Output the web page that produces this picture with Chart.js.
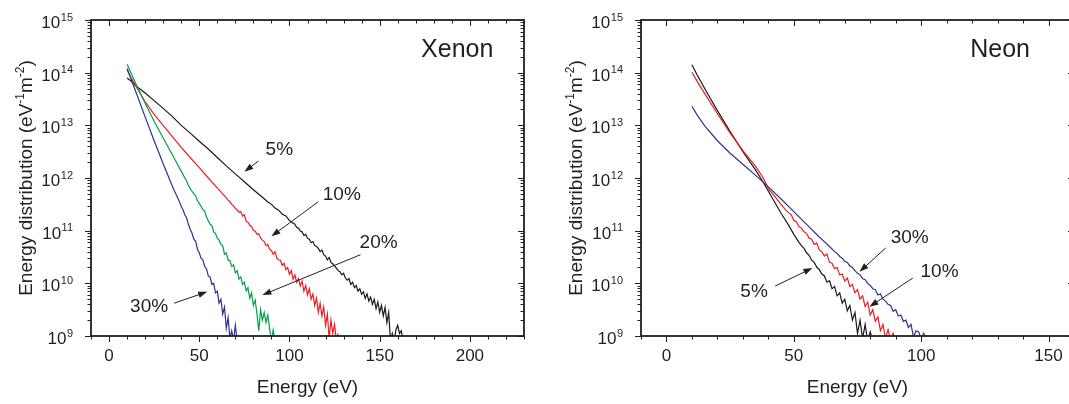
<!DOCTYPE html>
<html>
<head>
<meta charset="utf-8">
<script src="https://cdn.jsdelivr.net/npm/chart.js@4.4.1/dist/chart.umd.min.js"></script>
<style>
  html, body { margin: 0; padding: 0; background: #fff; width: 1069px; height: 404px; overflow: hidden; }
  .panel { position: absolute; top: 0; width: 540px; height: 404px; }
  #xePanel { left: 0; }
  #nePanel { left: 550px; }
</style>
</head>
<body>
<div class="panel" id="xePanel"><canvas id="xenon" width="540" height="404"></canvas></div>
<div class="panel" id="nePanel"><canvas id="neon" width="540" height="404"></canvas></div>
<script>
// ---- Xenon, energy (eV) and distribution (eV^-1 m^-2) ----
const xeEnergy5 = [10, 12, 15, 20, 25, 30, 35, 40, 45, 50, 55, 60, 65, 70, 75, 80, 85, 88, 90, 92, 94, 96, 98,
  100, 101, 102, 103, 104, 105, 106, 107, 108, 109,
  110, 111, 112, 113, 114, 115, 116, 117, 118, 119,
  120, 121, 122, 123, 124, 125, 126, 127, 128, 129,
  130, 131, 132, 133, 134, 135, 136, 137, 138, 139,
  140, 141, 142, 143, 144, 145, 146, 147, 148, 149,
  150, 151, 152, 153, 154, 155, 156, 157, 158, 159,
  160, 161, 162, 163];
const xeFlux5 = [7.9e13, 7.0e13, 5.6e13, 4.1e13, 2.95e13, 2.1e13, 1.48e13, 1.0e13, 7.1e12, 5.0e12, 3.55e12, 2.45e12,
  1.7e12, 1.2e12, 8.5e11, 6.0e11, 4.3e11, 3.5e11, 3.16e11, 2.7e11, 2.45e11, 2.05e11, 1.9e11,
  1.55e11, 1.48e11, 1.38e11, 1.32e11, 1.15e11, 1.12e11, 9.8e10, 9.5e10, 8.1e10, 8.5e10,
  7.2e10, 6.9e10, 5.9e10, 6.2e10, 5.2e10, 5.0e10, 4.6e10, 4.0e10, 4.3e10, 3.5e10,
  3.3e10, 2.8e10, 3.1e10, 2.5e10, 2.35e10, 2.15e10, 1.95e10, 1.74e10, 1.66e10, 1.45e10,
  1.55e10, 1.26e10, 1.15e10, 1.23e10, 9.5e9, 1.05e10, 8.3e9, 9.1e9, 7.1e9, 7.9e9,
  6.2e9, 6.9e9, 5.2e9, 6.3e9, 4.6e9, 5.5e9, 4.0e9, 5.0e9, 3.3e9, 4.4e9,
  2.8e9, 3.8e9, 2.4e9, 3.5e9, 1.8e9, 2.8e9, 8e8, 1.12e9, 8e8, 1.3e9,
  1.6e9, 1.12e9, 1.26e9, 8e8];

const xeEnergy10 = [10, 12, 15, 20, 25, 30, 35, 40, 45, 50, 55, 60, 65,
  66, 67, 68, 69, 70, 71, 72, 73, 74, 75,
  76, 77, 78, 79, 80, 81, 82, 83, 84, 85,
  86, 87, 88, 89, 90, 91, 92, 93, 94, 95,
  96, 97, 98, 99, 100, 101, 102, 103, 104, 105,
  106, 107, 108, 109, 110, 111, 112, 113, 114, 115,
  116, 117, 118, 119, 120, 121, 122, 123, 124, 125,
  126, 127];
const xeFlux10 = [1.12e14, 8.3e13, 5.5e13, 2.8e13, 1.62e13, 1.0e13, 6.2e12, 3.8e12, 2.45e12, 1.58e12, 1.0e12, 6.5e11, 4.2e11,
  3.8e11, 3.55e11, 3.16e11, 2.95e11, 2.63e11, 2.5e11, 2.24e11, 2.3e11, 1.9e11, 2.0e11,
  1.5e11, 1.45e11, 1.26e11, 1.2e11, 1.02e11, 9.8e10, 8.5e10, 8.7e10, 7.2e10, 6.6e10,
  6.2e10, 5.2e10, 5.5e10, 4.4e10, 4.2e10, 3.55e10, 4.0e10, 3.0e10, 2.8e10, 2.75e10,
  2.2e10, 2.4e10, 1.82e10, 2.0e10, 1.48e10, 1.74e10, 1.2e10, 1.45e10, 1.05e10, 1.23e10,
  8.9e9, 1.1e10, 7.1e9, 9.1e9, 6.0e9, 7.9e9, 5.0e9, 6.3e9, 3.8e9, 5.2e9,
  2.8e9, 4.2e9, 2.4e9, 3.55e9, 1.6e9, 2.6e9, 8.9e8, 2.0e9, 1.12e9, 1.66e9,
  8e8, 1.12e9];

const xeEnergy20 = [10, 12, 15, 20, 25, 30, 35, 40, 43,
  44, 45, 46, 47, 48, 49, 50, 51, 52, 53,
  54, 55, 56, 57, 58, 59, 60, 61, 62, 63,
  64, 65, 66, 67, 68, 69, 70, 71, 72, 73,
  74, 75, 76, 77, 78, 79, 80, 81, 82, 83,
  84, 85, 86, 87, 88, 89, 90, 91, 92];
const xeFlux20 = [1.45e14, 1.02e14, 6.0e13, 2.63e13, 1.2e13, 5.75e12, 2.8e12, 1.35e12, 8.7e11,
  7.2e11, 6.3e11, 5.6e11, 5.0e11, 4.6e11, 3.7e11, 3.3e11, 2.9e11, 2.5e11, 2.35e11,
  1.82e11, 1.55e11, 1.32e11, 1.26e11, 9.5e10, 8.9e10, 7.1e10, 6.6e10, 5.5e10, 5.2e10,
  3.55e10, 3.8e10, 2.75e10, 2.7e10, 2.1e10, 2.24e10, 1.58e10, 1.74e10, 1.2e10, 1.32e10,
  9.5e9, 1.05e10, 7.2e9, 8.3e9, 5.2e9, 6.6e9, 3.8e9, 4.8e9, 2.6e9, 1.26e9,
  3.16e9, 2.0e9, 2.8e9, 1.8e9, 2.5e9, 1.4e9, 8e8, 1.3e9, 8e8];

const xeEnergy30 = [10, 12, 15, 20, 25, 30, 35,
  36, 37, 38, 39, 40, 41, 42, 43, 44, 45,
  46, 47, 48, 49, 50, 51, 52, 53, 54, 55,
  56, 57, 58, 59, 60, 61, 62, 63, 64, 65,
  66, 67, 68, 69, 70, 71];
const xeFlux30 = [1.2e14, 7.9e13, 4.2e13, 1.45e13, 5.1e12, 1.86e12, 7.1e11,
  5.9e11, 5.0e11, 4.2e11, 3.55e11, 2.9e11, 2.5e11, 2.0e11, 1.74e11, 1.32e11, 1.05e11,
  8.9e10, 6.9e10, 6.3e10, 4.4e10, 3.8e10, 3.0e10, 2.8e10, 2.1e10, 1.9e10, 1.38e10,
  1.32e10, 9.5e9, 1.0e10, 6.6e9, 7.1e9, 4.2e9, 5.0e9, 2.6e9, 3.55e9, 1.4e9,
  2.24e9, 8.9e8, 1.26e9, 8e8, 1.6e9, 8e8];

// ---- Neon ----
const neEnergy5 = [10, 12, 15, 20, 25, 30, 35, 38, 40, 45, 48, 50,
  52, 53, 54, 55, 56, 57, 58, 59, 60, 61,
  62, 63, 64, 65, 66, 67, 68, 69, 70, 71,
  72, 73, 74, 75, 76, 77, 78, 79, 80, 81];
const neFlux5 = [1.41e14, 9.1e13, 5.0e13, 1.9e13, 7.6e12, 3.16e12, 1.41e12, 8.3e11, 5.6e11, 2.14e11, 1.26e11, 8.5e10,
  6.0e10, 5.2e10, 4.6e10, 3.8e10, 3.4e10, 2.75e10, 2.5e10, 2.04e10, 1.82e10, 1.5e10,
  1.38e10, 1.05e10, 1.12e10, 7.9e9, 8.7e9, 5.8e9, 6.6e9, 4.2e9, 5.0e9, 3.0e9,
  3.8e9, 2.0e9, 2.8e9, 1.12e9, 2.0e9, 8.9e8, 1.66e9, 8e8, 1.2e9, 8e8];

const neEnergy10 = [10, 12, 15, 20, 25, 30, 35, 38, 40, 43, 45, 47,
  48, 49, 50, 51, 52, 53, 54, 55, 56, 57,
  58, 59, 60, 61, 62, 63, 64, 65, 66, 67,
  68, 69, 70, 71, 72, 73, 74, 75, 76, 77,
  78, 79, 80, 81, 82, 83, 84, 85, 86, 87,
  88, 89, 90];
const neFlux10 = [1.02e14, 6.9e13, 4.0e13, 1.66e13, 7.1e12, 3.3e12, 1.66e12, 1.0e12, 6.3e11, 4.2e11, 3.16e11, 2.4e11,
  2.2e11, 2.0e11, 1.58e11, 1.48e11, 1.2e11, 1.12e11, 9.5e10, 8.9e10, 7.2e10, 6.9e10,
  5.5e10, 5.8e10, 4.3e10, 4.0e10, 3.3e10, 3.6e10, 2.5e10, 2.4e10, 1.9e10, 2.0e10,
  1.45e10, 1.5e10, 1.1e10, 1.26e10, 8.7e9, 9.5e9, 6.6e9, 7.6e9, 5.0e9, 5.8e9,
  3.6e9, 4.4e9, 2.5e9, 3.16e9, 1.9e9, 2.3e9, 1.26e9, 1.66e9, 8.9e8, 1.32e9,
  8.3e8, 1.12e9, 8e8];

const neEnergy30 = [10, 12, 15, 20, 25, 30, 35, 40, 45, 50, 55, 60, 62, 64,
  66, 67, 68, 69, 70, 71, 72, 73, 74, 75,
  76, 77, 78, 79, 80, 81, 82, 83, 84, 85,
  86, 87, 88, 89, 90, 91, 92, 93, 94, 95,
  96, 97, 98, 99, 100, 101, 102];
const neFlux30 = [2.3e13, 1.58e13, 9.8e12, 5.1e12, 2.95e12, 1.82e12, 1.12e12, 6.8e11, 4.0e11, 2.3e11, 1.32e11, 7.6e10, 6.2e10, 5.0e10,
  4.0e10, 3.7e10, 3.24e10, 3.0e10, 2.63e10, 2.5e10, 2.14e10, 2.0e10, 1.74e10, 1.55e10,
  1.45e10, 1.23e10, 1.17e10, 1.0e10, 9.1e9, 7.9e9, 7.6e9, 6.0e9, 6.3e9, 5.0e9,
  4.6e9, 4.0e9, 3.8e9, 2.95e9, 3.16e9, 2.4e9, 2.5e9, 1.9e9, 2.0e9, 1.45e9,
  1.66e9, 9.5e8, 1.26e9, 1.2e9, 8.9e8, 1.12e9, 8e8];

// ---- axis ticks ----
const decadeExponents = [9, 10, 11, 12, 13, 14, 15];
const xenonTickLabels = [0, 50, 100, 150, 200];
const neonTickLabels = [0, 50, 100, 150];

const ink = '#231f20';
const FONT = '"Liberation Sans", Arial, Helvetica, sans-serif';
const seriesColors = { black: '#1a1a1a', red: '#ee1c25', green: '#00a04b', blue: '#2b3391' };

function zip(xs, ys) {
  return xs.map((x, i) => ({ x: x, y: ys[i] }));
}

function line(label, xs, ys, color) {
  return {
    label: label,
    data: zip(xs, ys),
    borderColor: color,
    borderWidth: 1.2,
    pointRadius: 0,
    tension: 0,
    fill: false
  };
}

function drawArrow(ctx, x1, y1, x2, y2) {
  const ang = Math.atan2(y2 - y1, x2 - x1);
  const L = 9, W = 3.2;
  ctx.beginPath();
  ctx.moveTo(x1, y1);
  ctx.lineTo(x2 - Math.cos(ang) * (L - 1), y2 - Math.sin(ang) * (L - 1));
  ctx.stroke();
  ctx.beginPath();
  ctx.moveTo(x2, y2);
  ctx.lineTo(x2 - L * Math.cos(ang) + W * Math.sin(ang), y2 - L * Math.sin(ang) - W * Math.cos(ang));
  ctx.lineTo(x2 - L * Math.cos(ang) - W * Math.sin(ang), y2 - L * Math.sin(ang) + W * Math.cos(ang));
  ctx.closePath();
  ctx.fill();
}

// axes frame, ticks, labels and annotations, all placed through the chart scales
const framePlugin = {
  id: 'frame',
  afterDatasetsDraw(chart, args, opts) {
    const { ctx, chartArea: a, scales: { x, y } } = chart;
    ctx.save();
    ctx.strokeStyle = ink;
    ctx.fillStyle = ink;

    ctx.lineWidth = 1;
    ctx.beginPath();
    for (let v = Math.ceil(x.min / 10) * 10; v <= x.max; v += 10) {
      const px = Math.round(x.getPixelForValue(v)) + 0.5;
      const len = v % 50 === 0 ? 6 : 3.5;
      ctx.moveTo(px, a.bottom); ctx.lineTo(px, a.bottom + len);
      ctx.moveTo(px, a.top); ctx.lineTo(px, a.top + len);
    }
    decadeExponents.forEach(e => {
      for (let m = 1; m <= 9; m++) {
        const v = m * Math.pow(10, e);
        if (v > y.max) break;
        const py = Math.round(y.getPixelForValue(v)) + 0.5;
        const len = m === 1 ? 6 : 3.5;
        ctx.moveTo(a.left, py); ctx.lineTo(a.left - len, py);
        ctx.moveTo(a.right, py); ctx.lineTo(a.right - len, py);
      }
    });
    ctx.stroke();

    ctx.lineWidth = 1.8;
    ctx.strokeRect(a.left, a.top, a.right - a.left, a.bottom - a.top);

    // x tick labels
    ctx.font = '17px ' + FONT;
    ctx.textAlign = 'center';
    ctx.textBaseline = 'middle';
    opts.xLabels.forEach(v => ctx.fillText(String(v), x.getPixelForValue(v), a.bottom + 20));

    // y tick labels: 10 with a raised exponent
    ctx.textAlign = 'left';
    ctx.textBaseline = 'alphabetic';
    decadeExponents.forEach(e => {
      const py = y.getPixelForValue(Math.pow(10, e));
      ctx.font = '11px ' + FONT;
      const wExp = ctx.measureText(String(e)).width;
      ctx.font = '17px ' + FONT;
      const wBase = ctx.measureText('10').width;
      const right = a.left - 18;
      ctx.fillText('10', right - wExp - wBase - 0.5, py + 8);
      ctx.font = '11px ' + FONT;
      ctx.fillText(String(e), right - wExp, py + 0.5);
    });

    // axis titles
    ctx.font = '19px ' + FONT;
    ctx.textAlign = 'center';
    ctx.textBaseline = 'middle';
    ctx.fillText('Energy (eV)', (a.left + a.right) / 2, a.bottom + 52);

    const parts = [['Energy distribution (eV', false], ['-1', true], ['m', false], ['-2', true], [')', false]];
    let total = 0;
    parts.forEach(p => {
      ctx.font = (p[1] ? '12px ' : '19px ') + FONT;
      total += ctx.measureText(p[0]).width;
    });
    ctx.save();
    ctx.translate(25, (a.top + a.bottom) / 2);
    ctx.rotate(-Math.PI / 2);
    ctx.textAlign = 'left';
    ctx.textBaseline = 'alphabetic';
    let cx = -total / 2;
    parts.forEach(p => {
      ctx.font = (p[1] ? '12px ' : '19px ') + FONT;
      ctx.fillText(p[0], cx, p[1] ? -1.5 : 7);
      cx += ctx.measureText(p[0]).width;
    });
    ctx.restore();

    // gas name and percentage labels with arrows
    ctx.font = '25px ' + FONT;
    ctx.textAlign = 'center';
    ctx.fillText(opts.gas.text, x.getPixelForValue(opts.gas.x), y.getPixelForValue(opts.gas.y));
    ctx.font = '19px ' + FONT;
    ctx.lineWidth = 1;
    opts.notes.forEach(n => {
      ctx.fillText(n.text, x.getPixelForValue(n.x), y.getPixelForValue(n.y));
      drawArrow(ctx,
        x.getPixelForValue(n.from[0]), y.getPixelForValue(n.from[1]),
        x.getPixelForValue(n.to[0]), y.getPixelForValue(n.to[1]));
    });
    ctx.restore();
  }
};

function makeChart(id, datasets, xMin, xMax, frameOpts) {
  return new Chart(document.getElementById(id).getContext('2d'), {
    type: 'line',
    data: { datasets: datasets },
    options: {
      responsive: false,
      animation: false,
      layout: { padding: { top: 20, right: 16, left: 0, bottom: 0 } },
      plugins: { legend: { display: false }, tooltip: { enabled: false }, frame: frameOpts },
      scales: {
        x: {
          type: 'linear', min: xMin, max: xMax,
          ticks: { display: false, stepSize: 10 },
          grid: { display: false }, border: { display: false },
          afterFit: s => { s.height = 68; }
        },
        y: {
          type: 'logarithmic', min: 1e9, max: 1e15,
          ticks: { display: false },
          grid: { display: false }, border: { display: false },
          afterFit: s => { s.width = 91; }
        }
      }
    },
    plugins: [framePlugin]
  });
}

makeChart('xenon', [
  line('30%', xeEnergy30, xeFlux30, seriesColors.blue),
  line('20%', xeEnergy20, xeFlux20, seriesColors.green),
  line('10%', xeEnergy10, xeFlux10, seriesColors.red),
  line('5%', xeEnergy5, xeFlux5, seriesColors.black)
], -10, 230, {
  xLabels: xenonTickLabels,
  gas: { text: 'Xenon', x: 193, y: 2.7e14 },
  notes: [
    { text: '5%', x: 94.4, y: 3.4e12, from: [82.8, 2.1e12], to: [75, 1.32e12] },
    { text: '10%', x: 129, y: 4.8e11, from: [116, 3.55e11], to: [90, 7.8e10] },
    { text: '20%', x: 149.4, y: 6.0e10, from: [139.4, 3.5e10], to: [85, 6.0e9] },
    { text: '30%', x: 22.2, y: 3.6e9, from: [36.1, 4.2e9], to: [54.4, 6.9e9] }
  ]
});

makeChart('neon', [
  line('30%', neEnergy30, neFlux30, seriesColors.blue),
  line('10%', neEnergy10, neFlux10, seriesColors.red),
  line('5%', neEnergy5, neFlux5, seriesColors.black)
], -10, 160, {
  xLabels: neonTickLabels,
  gas: { text: 'Neon', x: 131, y: 2.7e14 },
  notes: [
    { text: '30%', x: 95.5, y: 7.4e10, from: [86.1, 4.7e10], to: [75.8, 1.66e10] },
    { text: '10%', x: 107.2, y: 1.66e10, from: [96.7, 1.26e10], to: [79.7, 3.6e9] },
    { text: '5%', x: 34.4, y: 6.9e9, from: [42.7, 8.9e9], to: [57.3, 1.95e10] }
  ]
});
</script>
</body>
</html>
